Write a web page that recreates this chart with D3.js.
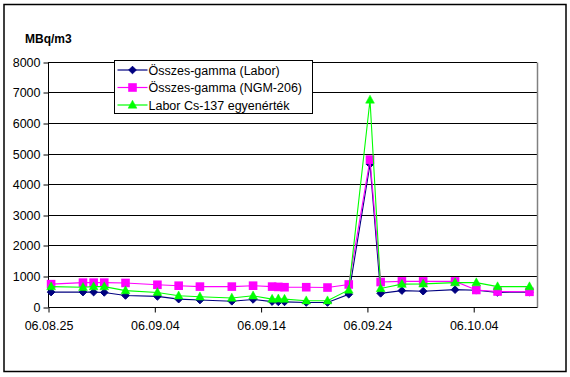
<!DOCTYPE html>
<html><head><meta charset="utf-8">
<script src="https://cdn.jsdelivr.net/npm/d3@7"></script>
<style>body{margin:0;background:#fff}svg{display:block}text{font-family:"Liberation Sans",Arial,sans-serif}</style>
</head><body><svg id="c" width="570" height="377"></svg>
<script>
const dates = ["2006-08-25T07:00","2006-08-28T07:00","2006-08-29T07:00","2006-08-30T07:00","2006-09-01T07:00","2006-09-04T07:00","2006-09-06T07:00","2006-09-08T07:00","2006-09-11T07:00","2006-09-13T07:00","2006-09-15T02:00","2006-09-15T16:00","2006-09-16T06:00","2006-09-18T07:00","2006-09-20T07:00","2006-09-22T07:00","2006-09-24T07:00","2006-09-25T07:00","2006-09-27T07:00","2006-09-29T07:00","2006-10-02T07:00","2006-10-04T07:00","2006-10-06T07:00","2006-10-09T07:00"];
const labor = [470,470,470,460,360,330,240,210,170,230,160,150,150,130,130,400,4650,430,520,500,550,530,460,470];
const ngm = [730,780,780,780,770,710,680,650,650,680,650,640,630,630,620,720,4800,800,820,820,820,540,490,480];
const cs137 = [650,630,650,650,520,460,350,320,280,350,240,250,240,190,190,540,6750,590,730,740,780,780,650,650];
const seriesNames = ["Összes-gamma (Labor)","Összes-gamma (NGM-206)","Labor Cs-137 egyenérték"];
const seriesColors = ["#000080","#FF00FF","#00FF00"];
const seriesMarkers = ["diamond","square","triangle"];
const xTickLabels = ["06.08.25","06.09.04","06.09.14","06.09.24","06.10.04"];
const yTicks = [0,1000,2000,3000,4000,5000,6000,7000,8000];
const yTitle = "MBq/m3";

const parse = d3.timeParse("%Y-%m-%dT%H:%M");
const tickParse = d3.timeParse("%y.%m.%d");
const svg = d3.select("#c");
const L = 48, R = 537, T = 61.7, B = 306.5;
const x = d3.scaleTime().domain([tickParse("06.08.25"), tickParse("06.10.10")]).range([L, R]);
const y = d3.scaleLinear().domain([0, 8000]).range([B, T]);

svg.append("rect").attr("x",4).attr("y",4.5).attr("width",562).attr("height",367)
  .attr("fill","#fff").attr("stroke","#000").attr("stroke-width",1.5);

// gridlines
svg.append("g").selectAll("line").data(yTicks.filter(v=>v>0)).join("line")
  .attr("x1",L).attr("x2",R).attr("y1",d=>Math.round(y(d))+0.5).attr("y2",d=>Math.round(y(d))+0.5)
  .attr("stroke","#000").attr("stroke-width",1);
// right border
svg.append("line").attr("x1",R+0.5).attr("x2",R+0.5).attr("y1",Math.round(T)+0.5).attr("y2",Math.round(B)+0.5)
  .attr("stroke","#808080").attr("stroke-width",1.5);

// axes
const yAxis = d3.axisLeft(y).tickValues(yTicks).tickSize(5).tickPadding(3).tickFormat(d3.format("d"));
const gy = svg.append("g").attr("transform",`translate(${L+0.5},0.5)`).call(yAxis);
gy.select(".domain").attr("stroke","#000").attr("d",`M0,${Math.round(T)}V${Math.round(B)}`);
gy.selectAll(".tick line").attr("stroke","#000").attr("transform",(d)=>`translate(0,${Math.round(y(d))-y(d)})`);
gy.selectAll("text").attr("font-size","12.5px").attr("fill","#000").attr("font-family","Liberation Sans, Arial");

const xAxis = d3.axisBottom(x).tickValues(xTickLabels.map(tickParse)).tickSize(5).tickPadding(9)
  .tickFormat((d,i)=>xTickLabels[i]);
const gx = svg.append("g").attr("transform",`translate(0.5,${Math.round(B)+0.5})`).call(xAxis);
gx.select(".domain").attr("stroke","#000").attr("d",`M${L},0H${R}`);
gx.selectAll(".tick line").attr("stroke","#000");
gx.selectAll("text").attr("font-size","12.5px").attr("fill","#000").attr("font-family","Liberation Sans, Arial");

svg.append("text").attr("x",25).attr("y",43).attr("font-size","12px").attr("font-weight","bold").text(yTitle);

function marker(g, type, color){
  if(type==="diamond") g.append("path").attr("d","M0,-3.8L3.8,0L0,3.8L-3.8,0Z").attr("fill",color).attr("stroke",color);
  else if(type==="square") g.append("rect").attr("x",-4.3).attr("y",-4.3).attr("width",8.6).attr("height",8.6).attr("fill",color);
  else g.append("path").attr("d","M0,-4.8L4.4,3.2L-4.4,3.2Z").attr("fill",color).attr("stroke",color).attr("stroke-width",0.5);
}

const allSeries = [labor, ngm, cs137];
const line = d3.line().x(d=>x(d[0])).y(d=>y(d[1]));
allSeries.forEach((vals,si)=>{
  const pts = dates.map((d,i)=>[parse(d), vals[i]]);
  const g = svg.append("g");
  g.append("path").attr("d",line(pts)).attr("fill","none").attr("stroke",seriesColors[si]).attr("stroke-width",1.1);
  pts.forEach(p=>{
    const m = g.append("g").attr("transform",`translate(${x(p[0])},${y(p[1])})`);
    marker(m, seriesMarkers[si], seriesColors[si]);
  });
});

// legend
const lg = svg.append("g").attr("transform","translate(114.5,60.5)");
lg.append("rect").attr("width",198).attr("height",53).attr("fill","#fff").attr("stroke","#000");
seriesNames.forEach((n,i)=>{
  const cy = 9.5 + i*17.5;
  lg.append("line").attr("x1",3).attr("x2",33).attr("y1",cy).attr("y2",cy).attr("stroke",seriesColors[i]).attr("stroke-width",1.2);
  const m = lg.append("g").attr("transform",`translate(18,${cy})`);
  marker(m, seriesMarkers[i], seriesColors[i]);
  lg.append("text").attr("x",34).attr("y",cy+4.5).attr("font-size","12.5px").text(n);
});
</script></body></html>
